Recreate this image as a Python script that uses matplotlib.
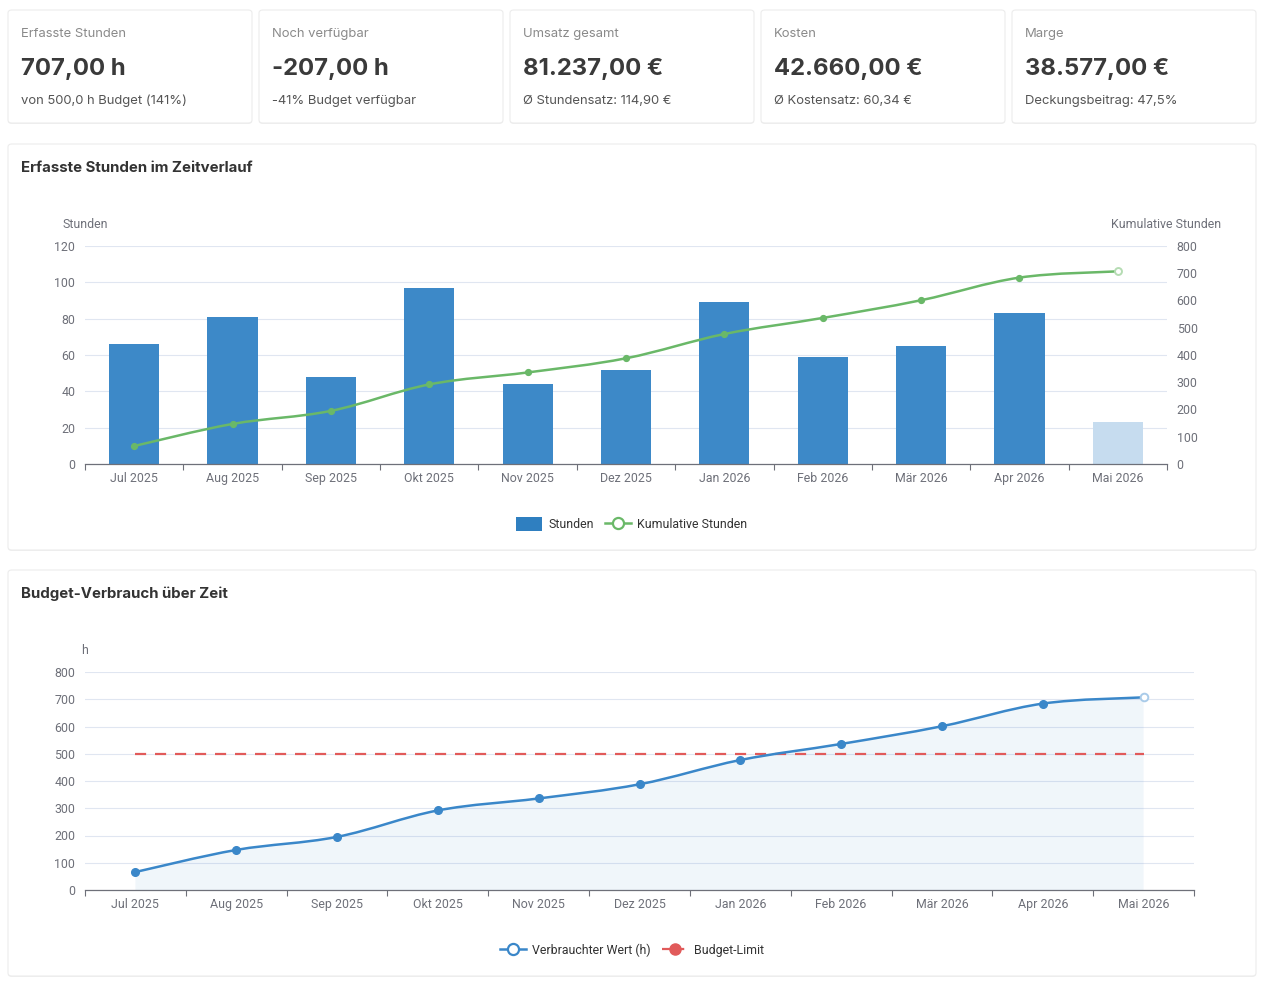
import matplotlib
matplotlib.use("Agg")
import matplotlib.pyplot as plt
import numpy as np
from matplotlib.patches import FancyBboxPatch, Patch, PathPatch
from matplotlib.lines import Line2D
from matplotlib.path import Path

#-- Data
months = ["Jul 2025", "Aug 2025", "Sep 2025", "Okt 2025", "Nov 2025", "Dez 2025",
          "Jan 2026", "Feb 2026", "Mär 2026", "Apr 2026", "Mai 2026"]
stunden = [66, 81, 48, 97, 44, 52, 89, 59, 65, 83, 23]
kumuliert = list(np.cumsum(stunden))
budget = 500

card_titles = ["Erfasste Stunden", "Noch verfügbar", "Umsatz gesamt", "Kosten", "Marge"]
card_values = ["707,00 h", "-207,00 h", "81.237,00 €", "42.660,00 €", "38.577,00 €"]
card_subs = ["von 500,0 h Budget (141%)", "-41% Budget verfügbar", "Ø Stundensatz: 114,90 €",
             "Ø Kostensatz: 60,34 €", "Deckungsbeitrag: 47,5%"]

#-- Colours
c_bar = "#3d89c8"
c_bar_light = "#c6dcef"
c_green = "#6ab868"
c_green_light = "#b5dcb3"
c_blue = "#3a87c9"
c_blue_light = "#a9cbe9"
c_red = "#e15a5a"
c_grid = "#e0e6f1"
c_axis = "#6e7079"
c_text = "#6e7079"

W, H = 1263, 984
plt.rcParams['font.family'] = ['Roboto', 'DejaVu Sans']
fig = plt.figure(figsize=(W / 100, H / 100), dpi=100)
fig.patch.set_facecolor("white")


def fx(px):
    return px / W


def fy(py):
    return 1 - py / H


def box(x0, y0, x1, y1):
    # card / panel background with soft shadow
    sh = FancyBboxPatch((fx(x0), fy(y1 + 1)), fx(x1 - x0), (y1 - y0) / H,
                        boxstyle="round,pad=0,rounding_size=0.003",
                        transform=fig.transFigure, facecolor="#f0f0f0", edgecolor="none", zorder=-3)
    fig.patches.append(sh)
    p = FancyBboxPatch((fx(x0), fy(y1)), fx(x1 - x0), (y1 - y0) / H,
                       boxstyle="round,pad=0,rounding_size=0.003",
                       transform=fig.transFigure, facecolor="white", edgecolor="#ececec",
                       linewidth=0.8, zorder=-2)
    fig.patches.append(p)


def smooth_path(xs, ys, smooth=0.35, close_to=None):
    p = np.column_stack([xs, ys]).astype(float)
    n = len(p)
    t = np.zeros_like(p)
    for i in range(n):
        a = p[max(i - 1, 0)]
        b = p[min(i + 1, n - 1)]
        t[i] = (b - a) * smooth / 2
    verts = [tuple(p[0])]
    codes = [Path.MOVETO]
    for i in range(n - 1):
        verts += [tuple(p[i] + t[i]), tuple(p[i + 1] - t[i + 1]), tuple(p[i + 1])]
        codes += [Path.CURVE4] * 3
    if close_to is not None:
        verts += [(p[-1, 0], close_to), (p[0, 0], close_to), tuple(p[0])]
        codes += [Path.LINETO, Path.LINETO, Path.CLOSEPOLY]
    return Path(verts, codes)


#-- KPI cards
lefts = [8, 259, 510, 761, 1012]
for i, x0 in enumerate(lefts):
    box(x0, 10, x0 + 244, 123)
    fig.text(fx(x0 + 13), fy(37.3), card_titles[i], fontsize=9.4, color="#8a8a8a",
             family=["Inter", "DejaVu Sans"], va="baseline", ha="left")
    fig.text(fx(x0 + 13), fy(75), card_values[i], fontsize=17.2, color="#3a3a3a",
             family=["Inter", "DejaVu Sans"], weight="bold", va="baseline", ha="left")
    fig.text(fx(x0 + 13), fy(104.3), card_subs[i], fontsize=9.4, color="#555555",
             family=["Inter", "DejaVu Sans"], va="baseline", ha="left")

#-- Panels
box(8, 144, 1256, 550)
box(8, 570, 1256, 976)
fig.text(fx(21), fy(167.5), "Erfasste Stunden im Zeitverlauf", fontsize=10.8, weight="bold",
         color="#333333", family=["Inter", "DejaVu Sans"], va="center")
fig.text(fx(21), fy(593.5), "Budget-Verbrauch über Zeit", fontsize=10.8, weight="bold",
         color="#333333", family=["Inter", "DejaVu Sans"], va="center")

x = np.arange(len(months))


def style_xaxis(ax):
    ax.set_xlim(-0.5, len(months) - 0.5)
    ax.set_xticks(np.arange(-0.5, len(months), 1.0))
    ax.set_xticklabels([])
    ax.set_xticks(x, minor=True)
    ax.set_xticklabels(months, minor=True)
    ax.tick_params(axis="x", which="major", length=4, width=0.8, color=c_axis, direction="out")
    ax.tick_params(axis="x", which="minor", length=0, pad=6, labelsize=8.9, labelcolor=c_text)
    for s in ["top", "right", "left"]:
        ax.spines[s].set_visible(False)
    ax.spines["bottom"].set_color(c_axis)
    ax.spines["bottom"].set_linewidth(0.9)
    ax.tick_params(axis="y", length=0, pad=7, labelsize=8.9, labelcolor=c_text)
    ax.grid(axis="y", color=c_grid, linewidth=0.8)
    ax.set_axisbelow(True)


#-- Chart 1: hours per month + cumulative
ax1 = fig.add_axes([fx(85), fy(464), fx(1167 - 85), (464 - 246) / H])
ax1.set_facecolor("none")
style_xaxis(ax1)
ax1.set_ylim(0, 120)
ax1.set_yticks(range(0, 121, 20))
bar_colors = [c_bar] * (len(months) - 1) + [c_bar_light]
ax1.bar(x, stunden, width=0.51, color=bar_colors, zorder=2)

ax1b = ax1.twinx()
ax1b.set_ylim(0, 800)
ax1b.set_yticks(range(0, 801, 100))
ax1b.tick_params(axis="y", length=0, pad=7, labelsize=8.9, labelcolor=c_text)
for s in ["top", "right", "left", "bottom"]:
    ax1b.spines[s].set_visible(False)
ax1b.add_patch(PathPatch(smooth_path(x, kumuliert), facecolor="none", edgecolor=c_green,
                         linewidth=1.8, zorder=3))
ax1b.plot(x[:-1], kumuliert[:-1], "o", ms=4.2, color=c_green, zorder=4)
ax1b.plot(x[-1:], kumuliert[-1:], "o", ms=5, mfc="white", mec=c_green_light, mew=1.4, zorder=4)

fig.text(fx(85), fy(224), "Stunden", fontsize=8.9, color=c_text, ha="center", va="center")
fig.text(fx(1166), fy(224), "Kumulative Stunden", fontsize=8.9, color=c_text, ha="center", va="center")

h1 = [Patch(facecolor="#2f7fc0", edgecolor="none"),
      Line2D([0], [0], color=c_green, lw=1.8, marker="o", ms=8, mfc="white", mec=c_green, mew=1.6)]
fig.legend(h1, ["Stunden", "Kumulative Stunden"], loc="center", bbox_to_anchor=(fx(632), fy(524)),
           ncol=2, frameon=False, fontsize=8.9, handlelength=2.1, handleheight=1.3,
           columnspacing=0.9, handletextpad=0.5, labelcolor="#333333")

#-- Chart 2: budget consumption
ax2 = fig.add_axes([fx(85), fy(890), fx(1194 - 85), (890 - 672) / H])
ax2.set_facecolor("none")
style_xaxis(ax2)
ax2.set_ylim(0, 800)
ax2.set_yticks(range(0, 801, 100))
ax2.add_patch(PathPatch(smooth_path(x, kumuliert, close_to=0), facecolor=c_blue, alpha=0.075,
                        edgecolor="none", zorder=1))
ax2.add_patch(PathPatch(smooth_path(x, kumuliert), facecolor="none", edgecolor=c_blue,
                        linewidth=1.8, zorder=3))
ax2.plot(x[:-1], kumuliert[:-1], "o", ms=5.5, color=c_blue, zorder=4)
ax2.plot(x[-1:], kumuliert[-1:], "o", ms=5.5, mfc="white", mec=c_blue_light, mew=1.4, zorder=4)
ax2.plot([x[0], x[-1]], [budget, budget], color=c_red, lw=1.6, dashes=(5, 4), zorder=2)

fig.text(fx(85), fy(650), "h", fontsize=8.9, color=c_text, ha="center", va="center")

h2 = [Line2D([0], [0], color=c_blue, lw=1.8, marker="o", ms=8, mfc="white", mec=c_blue, mew=1.6),
      Line2D([0], [0], color=c_red, lw=1.6, dashes=(4, 2), marker="o", ms=8, mfc=c_red, mec=c_red)]
fig.legend(h2, ["Verbrauchter Wert (h)", "Budget-Limit"], loc="center", bbox_to_anchor=(fx(632), fy(950)),
           ncol=2, frameon=False, fontsize=8.9, handlelength=2.1, columnspacing=0.9,
           handletextpad=0.5, labelcolor="#333333")

fig.savefig("out.png", dpi=100, facecolor="white")
